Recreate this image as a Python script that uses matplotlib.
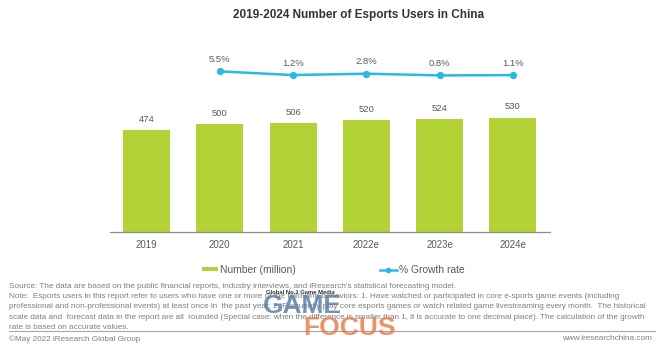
import matplotlib
matplotlib.use('Agg')
import matplotlib.pyplot as plt
from matplotlib.lines import Line2D
from matplotlib.patches import Patch

plt.rcParams['font.family'] = ['Liberation Sans', 'DejaVu Sans']

years = ['2019', '2020', '2021', '2022e', '2023e', '2024e']
users = [474, 500, 506, 520, 524, 530]
growth_years = ['2020', '2021', '2022e', '2023e', '2024e']
growth = [5.5, 1.2, 2.8, 0.8, 1.1]

BAR_COLOR = '#b2d235'
LINE_COLOR = '#29b9e6'
TEXT_GRAY = '#595959'
NOTE_GRAY = '#7f7f7f'

title = '2019-2024 Number of Esports Users in China'
note_lines = [
    "Source: The data are based on the public financial reports, industry interviews, and iResearch's statistical forecasting model.",
    "Note:  Esports users in this report refer to users who have one or more of the following behaviors: 1. Have watched or participated in core e-sports game events (including",
    "professional and non-professional events) at least once in  the past year; 2. Frequently play core esports games or watch related game livestreaming every month.  The historical",
    "scale data and  forecast data in the report are all  rounded (Special case: when the difference is smaller than 1, it is accurate to one decimal place). The calculation of the growth",
    "rate is based on accurate values.",
]

fig = plt.figure(figsize=(6.6, 3.52), dpi=100)
ax = fig.add_axes([0.1664, 0.3418, 0.6663, 0.5446])

x = list(range(len(years)))
ax.bar(x, users, width=0.64, color=BAR_COLOR, zorder=2)
for xi, v in zip(x, users):
    ax.annotate(str(v), (xi, v), textcoords='offset points', xytext=(0, 7.6),
                ha='center', va='center', fontsize=6.8, color=TEXT_GRAY)

ax.set_xlim(-0.5, len(years) - 0.5)
ax.set_ylim(0, 890)
ax.set_xticks(x)
ax.set_xticklabels(years, fontsize=7, color=TEXT_GRAY)
ax.tick_params(axis='x', length=0, pad=6)
ax.set_yticks([])
for side in ['top', 'left', 'right']:
    ax.spines[side].set_visible(False)
ax.spines['bottom'].set_color('#8c8c8c')
ax.spines['bottom'].set_linewidth(0.9)

ax2 = ax.twinx()
gx = [years.index(y) for y in growth_years]
ax2.plot(gx, growth, color=LINE_COLOR, lw=1.8, marker='o', ms=4.2, zorder=3)
for xi, g in zip(gx, growth):
    ax2.annotate(f'{g}%', (xi, g), textcoords='offset points', xytext=(0, 8.6),
                 ha='center', va='center', fontsize=6.8, color=TEXT_GRAY)
ax2.set_ylim(-181, 42)
ax2.set_yticks([])
for side in ['top', 'left', 'right', 'bottom']:
    ax2.spines[side].set_visible(False)

fig.text(0.543, 0.957, title, ha='center', va='center', fontsize=8.5,
         fontweight='bold', color='#333333')

handles = [Patch(facecolor=BAR_COLOR, edgecolor='none'),
           Line2D([], [], color=LINE_COLOR, lw=1.8, marker='o', ms=3)]
fig.legend(handles, ['Number (million)', '% Growth rate'], loc='center',
           bbox_to_anchor=(0.5045, 0.234), ncol=2, frameon=False, fontsize=7.4,
           handlelength=1.6, handleheight=0.35, handletextpad=0.2,
           columnspacing=8.2, labelcolor=TEXT_GRAY)

y0 = 0.187
step = 10.3 / 352
for i, line in enumerate(note_lines):
    fig.text(0.014, y0 - i * step, line, ha='left', va='center',
             fontsize=5.9, color=NOTE_GRAY)

fig.add_artist(Line2D([0.013, 0.993], [0.06, 0.06], color='#a6a6a6', lw=0.8))
fig.text(0.014, 0.037, '\u00a9May 2022 iResearch Global Group', ha='left',
         va='center', fontsize=5.9, color=NOTE_GRAY)
fig.text(0.988, 0.037, 'www.iresearchchina.com', ha='right', va='center',
         fontsize=5.9, color=NOTE_GRAY)

# watermark
fig.text(0.455, 0.168, 'Global No.1 Game Media', ha='center', va='center',
         fontsize=4.2, fontweight='bold', color='#333333')
fig.text(0.458, 0.13, 'GAME', ha='center', va='center', fontsize=19,
         fontweight='bold', color='#5b7fa8', alpha=0.85)
fig.text(0.53, 0.067, 'FOCUS', ha='center', va='center', fontsize=19,
         fontweight='bold', color='#e8804f', alpha=0.85)

fig.savefig('out.png', dpi=100)
